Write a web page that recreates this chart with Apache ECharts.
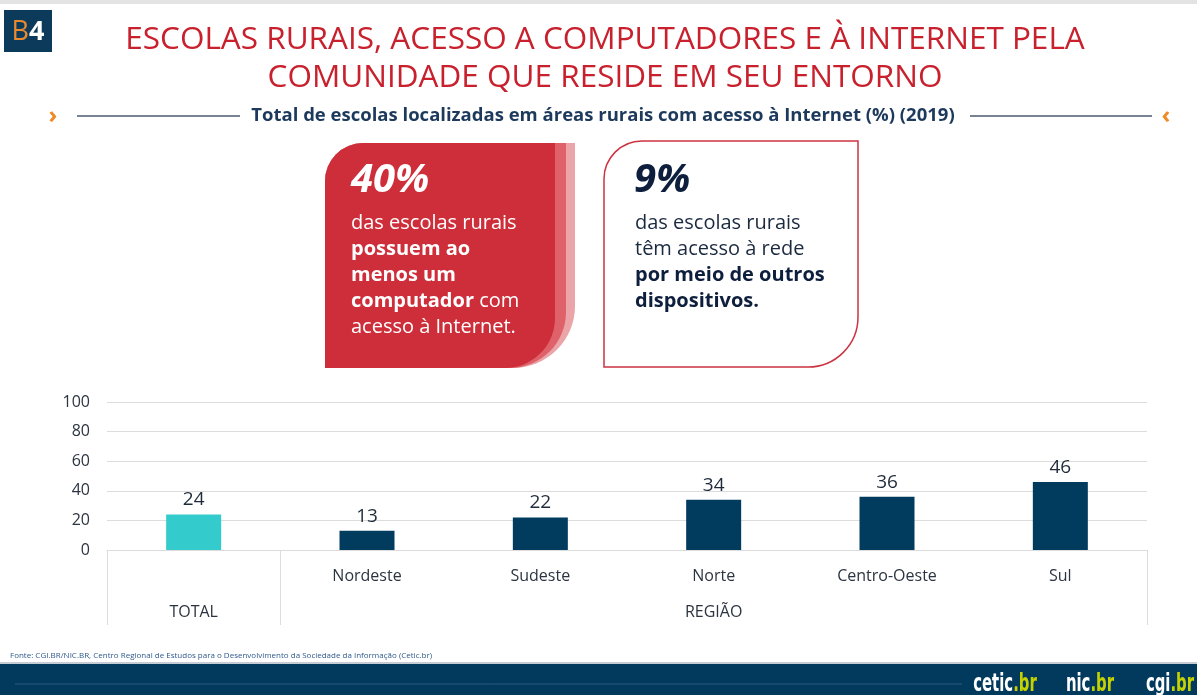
<!DOCTYPE html>
<html>
<head>
<meta charset="utf-8">
<script src="https://cdn.jsdelivr.net/npm/echarts@6/dist/echarts.min.js"></script>
<style>
  html, body { margin: 0; padding: 0; background: #fff; }
  #main { width: 1197px; height: 695px; }
</style>
</head>
<body>
<div id="main"></div>
<script>
// dados do gráfico
var categories = ['TOTAL', 'Nordeste', 'Sudeste', 'Norte', 'Centro-Oeste', 'Sul'];
var values = [24, 13, 22, 34, 36, 46];
var groupRow = ['TOTAL', '', '', 'REGIÃO', '', ''];
var yTicks = [0, 20, 40, 60, 80, 100];

var FONT = "'Open Sans', 'Noto Sans', sans-serif";
var LOGO_FONT = "'DejaVu Sans', sans-serif";
var NAVY = '#013c5f';
var TEAL = '#33cbcc';
var RED = '#c8202c';

var myChart = echarts.init(document.getElementById('main'));

function logo(name, cx) {
  return {
    type: 'text', x: cx, y: 685, scaleX: 0.62,
    style: {
      text: '{w|' + name + '}{g|.br}', align: 'center', verticalAlign: 'middle',
      rich: {
        w: { fill: '#fff', fontSize: 24, fontWeight: 'bold', fontFamily: LOGO_FONT },
        g: { fill: '#c5d200', fontSize: 24, fontWeight: 'bold', fontFamily: LOGO_FONT }
      }
    }
  };
}

var option = {
  backgroundColor: '#fff',
  textStyle: { fontFamily: FONT },
  grid: { left: 107, right: 50, top: 402, bottom: 145 },
  yAxis: {
    type: 'value',
    min: yTicks[0],
    max: yTicks[yTicks.length - 1],
    interval: yTicks[1] - yTicks[0],
    axisLine: { show: false },
    axisTick: { show: false },
    splitLine: { lineStyle: { color: '#dcdcdc', width: 1 } },
    axisLabel: { fontSize: 16, color: '#2b3440', margin: 17, fontFamily: FONT }
  },
  xAxis: [
    {
      type: 'category',
      position: 'bottom',
      data: categories,
      axisLine: { show: true, lineStyle: { color: '#dcdcdc' } },
      axisTick: { show: false },
      axisLabel: {
        interval: 0, fontSize: 16, color: '#2b3440', margin: 18, fontFamily: FONT,
        formatter: function (v, i) { return i === 0 ? '' : v; }
      }
    },
    {
      type: 'category',
      position: 'bottom',
      data: groupRow,
      axisLine: { show: false },
      axisTick: {
        show: true, length: 75,
        interval: function (i) { return i <= 1; },
        lineStyle: { color: '#dcdcdc' }
      },
      axisLabel: { interval: 0, fontSize: 16, color: '#2b3440', margin: 54, fontFamily: FONT }
    }
  ],
  series: [{
    type: 'bar',
    xAxisIndex: 0,
    barWidth: 55,
    data: values.map(function (v, i) {
      return { value: v, itemStyle: { color: i === 0 ? TEAL : NAVY } };
    }),
    label: { show: true, position: 'top', distance: 5, fontSize: 19, color: '#1f2b3a', fontFamily: FONT }
  }],
  graphic: [
    // faixa cinza no topo
    { type: 'rect', shape: { x: 0, y: 0, width: 1197, height: 4 }, style: { fill: '#e3e3e3' } },
    // selo B4
    { type: 'rect', shape: { x: 4, y: 10, width: 48, height: 42 }, style: { fill: '#0b3a5b' } },
    {
      type: 'text', x: 28, y: 32,
      style: {
        text: '{o|B}{w|4}', align: 'center', verticalAlign: 'middle',
        rich: {
          o: { fill: '#e98a2e', fontSize: 27, fontFamily: FONT },
          w: { fill: '#fff', fontSize: 27, fontWeight: 'bold', fontFamily: FONT }
        }
      }
    },
    // título
    {
      type: 'text', x: 605, y: 40,
      style: { text: 'ESCOLAS RURAIS, ACESSO A COMPUTADORES E À INTERNET PELA', fill: RED, fontSize: 31.5, fontFamily: FONT, align: 'center', verticalAlign: 'middle' }
    },
    {
      type: 'text', x: 605, y: 78,
      style: { text: 'COMUNIDADE QUE RESIDE EM SEU ENTORNO', fill: RED, fontSize: 31.5, fontFamily: FONT, align: 'center', verticalAlign: 'middle' }
    },
    // subtítulo com linhas
    { type: 'text', x: 53, y: 116, style: { text: '›', fill: '#f08a24', fontSize: 24, fontWeight: 'bold', fontFamily: FONT, align: 'center', verticalAlign: 'middle' } },
    { type: 'line', shape: { x1: 77, y1: 116, x2: 240, y2: 116 }, style: { stroke: '#4b5a6e', lineWidth: 1.5 } },
    {
      type: 'text', x: 603, y: 116,
      style: { text: 'Total de escolas localizadas em áreas rurais com acesso à Internet (%) (2019)', fill: '#1d3a5c', fontSize: 18.5, fontWeight: 'bold', fontFamily: FONT, align: 'center', verticalAlign: 'middle' }
    },
    { type: 'line', shape: { x1: 970, y1: 116, x2: 1152, y2: 116 }, style: { stroke: '#4b5a6e', lineWidth: 1.5 } },
    { type: 'text', x: 1166, y: 116, style: { text: '‹', fill: '#f08a24', fontSize: 24, fontWeight: 'bold', fontFamily: FONT, align: 'center', verticalAlign: 'middle' } },

    // cartão vermelho (camadas)
    { type: 'rect', shape: { x: 325, y: 143, width: 250, height: 225, r: [38, 0, 62, 0] }, style: { fill: '#eba5a8' } },
    { type: 'rect', shape: { x: 325, y: 143, width: 241, height: 225, r: [38, 0, 56, 0] }, style: { fill: '#df6169' } },
    { type: 'rect', shape: { x: 325, y: 143, width: 230, height: 225, r: [38, 0, 50, 0] }, style: { fill: '#cd2e3a' } },
    {
      type: 'text', x: 351, y: 181,
      style: { text: '40%', fill: '#fff', fontSize: 40, fontWeight: 'bold', fontStyle: 'italic', fontFamily: FONT, verticalAlign: 'middle' }
    },
    {
      type: 'text', x: 351, y: 210,
      style: {
        text: '{n|das escolas rurais}\n{b|possuem ao}\n{b|menos um}\n{b|computador}{n| com}\n{n|acesso à Internet.}',
        fill: '#fff', lineHeight: 26,
        rich: {
          n: { fontSize: 20, fill: '#fff', fontFamily: FONT, lineHeight: 26 },
          b: { fontSize: 20, fill: '#fff', fontWeight: 'bold', fontFamily: FONT, lineHeight: 26 }
        }
      }
    },
    // cartão branco
    { type: 'rect', shape: { x: 604, y: 141, width: 254, height: 226, r: [38, 0, 50, 0] }, style: { fill: '#fff', stroke: '#cc3340', lineWidth: 1.5 } },
    {
      type: 'text', x: 634, y: 181,
      style: { text: '9%', fill: '#0e1f3d', fontSize: 40, fontWeight: 'bold', fontStyle: 'italic', fontFamily: FONT, verticalAlign: 'middle' }
    },
    {
      type: 'text', x: 635, y: 210,
      style: {
        text: '{n|das escolas rurais}\n{n|têm acesso à rede}\n{b|por meio de outros}\n{b|dispositivos.}',
        lineHeight: 26,
        rich: {
          n: { fontSize: 20, fill: '#1b2940', fontFamily: FONT, lineHeight: 26 },
          b: { fontSize: 20, fill: '#0e1f3d', fontWeight: 'bold', fontFamily: FONT, lineHeight: 26 }
        }
      }
    },

    // fonte
    {
      type: 'text', x: 10, y: 656,
      style: { text: 'Fonte: CGI.BR/NIC.BR, Centro Regional de Estudos para o Desenvolvimento da Sociedade da Informação (Cetic.br)', fill: '#2f5a8c', fontSize: 8, fontFamily: FONT, verticalAlign: 'middle' }
    },
    // rodapé
    { type: 'rect', shape: { x: 0, y: 662, width: 1197, height: 2 }, style: { fill: '#c6ccd3' } },
    { type: 'rect', shape: { x: 0, y: 664, width: 1197, height: 31 }, style: { fill: '#023a5e' } },
    { type: 'line', shape: { x1: 15, y1: 684, x2: 962, y2: 684 }, style: { stroke: '#2d5a7d', lineWidth: 1 } },
    logo('cetic', 1005),
    logo('nic', 1090),
    logo('cgi', 1170)
  ]
};

window.onresize = myChart.resize;
myChart.setOption(option);
</script>
</body>
</html>
